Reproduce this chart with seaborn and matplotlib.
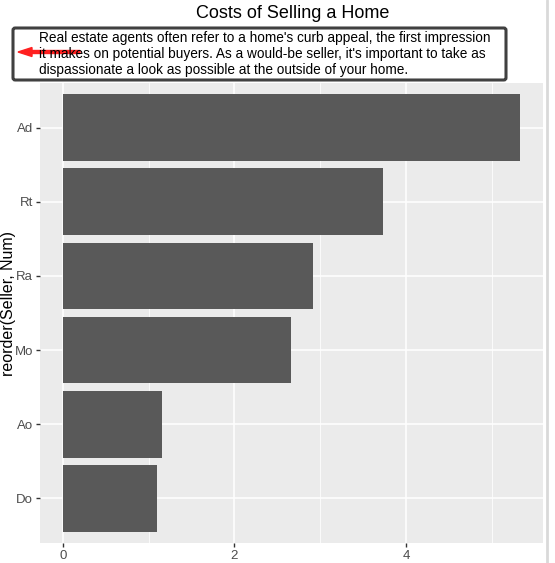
import matplotlib
matplotlib.use("Agg")
import matplotlib.pyplot as plt
import pandas as pd
import seaborn as sns
from matplotlib.patches import FancyBboxPatch, FancyArrow
from matplotlib.lines import Line2D

sellers = ["Ad", "Rt", "Ra", "Mo", "Ao", "Do"]
nums = [5.33, 3.73, 2.92, 2.66, 1.16, 1.10]
x_ticks = [0, 2, 4]

title = "Costs of Selling a Home"
note = ("Real estate agents often refer to a home's curb appeal, the first impression\n"
        "it makes on potential buyers. As a would-be seller, it's important to take as\n"
        "dispassionate a look as possible at the outside of your home.")

df = pd.DataFrame({"Seller": sellers, "Num": nums})

sns.set_theme(style="darkgrid", rc={
    "axes.facecolor": "#EBEBEB",
    "grid.color": "white",
    "axes.edgecolor": "#EBEBEB",
})
plt.rcParams["font.family"] = ["Liberation Sans", "DejaVu Sans"]

fig = plt.figure(figsize=(5.55, 5.63), dpi=100)
ax = fig.add_axes([40 / 555, 1 - 543 / 563, 503 / 555, 460 / 563])

sns.barplot(data=df, x="Num", y="Seller", order=sellers, color="#595959",
            saturation=1, width=0.9, linewidth=0, ax=ax, zorder=3)

xmax = max(nums)
ax.set_xlim(-0.05 * xmax, xmax * 1.05)
ax.set_ylim(len(sellers) - 1 + 0.6, -0.6)
ax.set_xticks(x_ticks)
ax.set_xticks([1, 3, 5], minor=True)
ax.grid(True, which="major", color="white", linewidth=1.1, zorder=0)
ax.grid(True, which="minor", color="white", linewidth=0.55, zorder=0)
ax.set_axisbelow(True)
for s in ax.spines.values():
    s.set_visible(False)
ax.tick_params(axis="both", which="major", length=3, width=1, color="#333333",
               labelsize=9.5, labelcolor="#4D4D4D", pad=2)
ax.tick_params(axis="both", which="minor", length=0)
ax.tick_params(axis="x", bottom=True)
ax.tick_params(axis="y", left=True)
ax.set_xlabel("")
ax.set_ylabel("reorder(Seller, Num)", fontsize=11.5, color="black")
ax.yaxis.set_label_coords(-0.047, 0.52)

fig.text(293 / 555, 1 - 13 / 563, title, ha="center", va="center", fontsize=13, color="black")

box = FancyBboxPatch((13 / 555, 1 - 80 / 563), 493 / 555, 52 / 563,
                     boxstyle="round,pad=0,rounding_size=0.004",
                     transform=fig.transFigure, facecolor="white",
                     edgecolor="#404040", linewidth=2.2)
fig.patches.append(box)
fig.text(39 / 555, 1 - 54 / 563, note, ha="left", va="center", fontsize=9.8,
         color="black", linespacing=1.2)
fig.patches.append(FancyArrow(
    80 / 555, 1 - 52 / 563, -62 / 555, 0, width=3 / 563, head_width=9 / 563,
    head_length=14 / 555, length_includes_head=True, color="#FF2020",
    transform=fig.transFigure))

# thin grey frame edge on the right of the screenshot
fig.add_artist(Line2D([547 / 555, 547 / 555], [0, 1], transform=fig.transFigure,
                      color="#D9D9D9", linewidth=2))

fig.savefig("out.png", dpi=100)
